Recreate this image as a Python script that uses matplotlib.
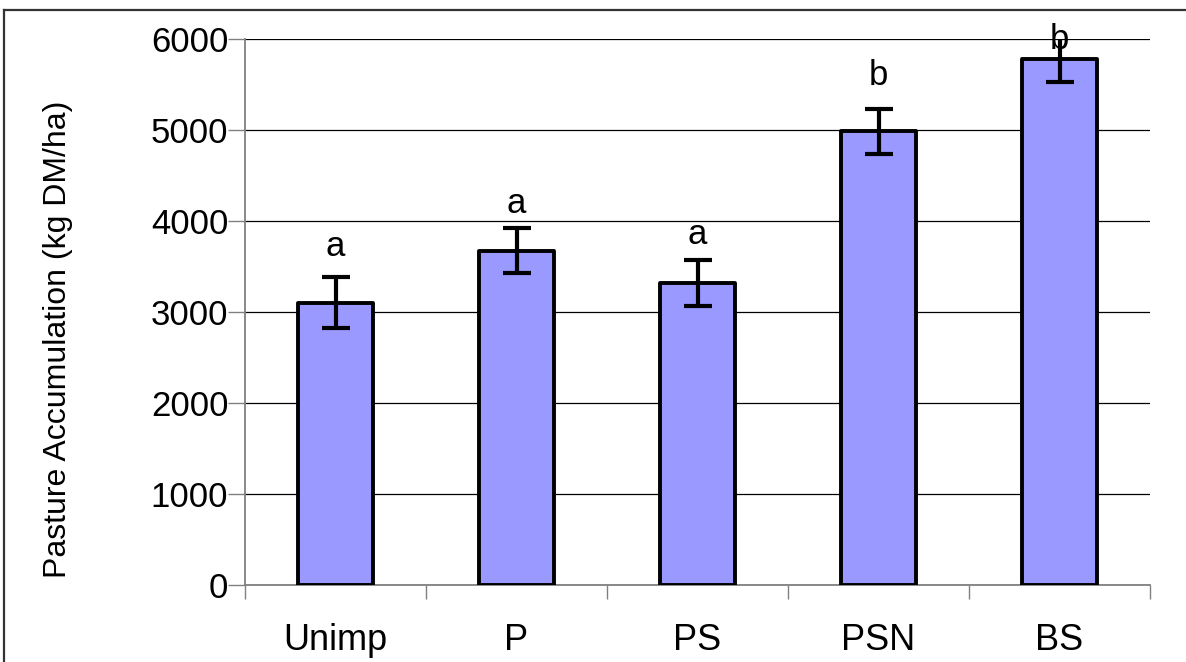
import matplotlib
matplotlib.use("Agg")
import matplotlib.pyplot as plt
from matplotlib.lines import Line2D
import numpy as np

plt.rcParams['font.family'] = ['Liberation Sans', 'DejaVu Sans']

# Pasture accumulation by treatment
treatments = ["Unimp", "P", "PS", "PSN", "BS"]
accumulation = [3100, 3675, 3320, 4985, 5785]
std_err = [280, 250, 250, 250, 255]
letters = ["a", "a", "a", "b", "b"]
letter_y = [3620, 4085, 3745, 5490, 5895]

W, H = 1186, 662
fig = plt.figure(figsize=(W / 100, H / 100), dpi=100)
ax = fig.add_axes([245 / W, (H - 585) / H, (1150 - 245) / W, (585 - 39) / H])

x = np.arange(len(treatments))
ax.bar(x, accumulation, width=0.41, color="#9999ff", edgecolor="black",
       linewidth=2.8, joinstyle="round", zorder=3)
ax.errorbar(x, accumulation, yerr=std_err, fmt="none", ecolor="black",
            elinewidth=3, capsize=10, capthick=3, zorder=4)

for xi, lab, ly in zip(x, letters, letter_y):
    ax.text(xi, ly, lab, ha="center", va="baseline", fontsize=25, zorder=5)

ax.set_xlim(-0.5, len(treatments) - 0.5)
ax.set_ylim(0, 6000)
ax.set_yticks(np.arange(0, 6001, 1000))
ax.yaxis.grid(True, color="black", linewidth=0.9, zorder=0)

ax.set_xticks(x)
ax.set_xticklabels(treatments, fontsize=26)
ax.set_xticks(np.arange(-0.5, len(treatments)), minor=True)
ax.tick_params(axis="x", which="major", length=0, pad=27)
ax.tick_params(axis="x", which="minor", length=10, width=1, color="#808080")
ax.tick_params(axis="y", length=12, width=1, color="#808080", labelsize=25, pad=0)

for s in ["top", "right"]:
    ax.spines[s].set_visible(False)
for s in ["left", "bottom"]:
    ax.spines[s].set_color("#808080")
    ax.spines[s].set_linewidth(1.3)

ax.set_ylabel("Pasture Accumulation (kg DM/ha)", fontsize=23)
ax.yaxis.set_label_coords((73 - 245) / 905, 0.45)

# outer chart frame
fig.add_artist(Line2D([3.5 / W, 3.5 / W], [0, 1 - 9.5 / H], color="#333333", lw=1.6,
                      transform=fig.transFigure))
fig.add_artist(Line2D([3.5 / W, 1], [1 - 9.5 / H, 1 - 9.5 / H], color="#333333", lw=1.6,
                      transform=fig.transFigure))

fig.savefig("out.png", dpi=100)
